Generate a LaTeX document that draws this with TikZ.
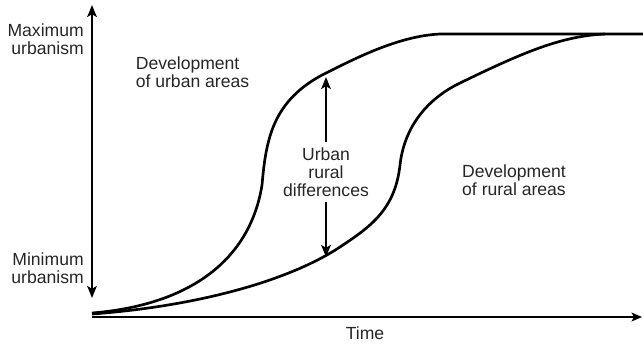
\documentclass[tikz,border=0pt]{standalone}
\usepackage{fontspec}
\setmainfont{Liberation Sans}
\usetikzlibrary{arrows.meta}
\tikzset{
  axis/.style={line width=1.2pt},
  growth/.style={line width=1.9pt, line join=round},
  tip/.style={-{Stealth[length=3mm,width=2.4mm,inset=0.7mm]}},
  lbl/.style={inner sep=0pt, text=black!85},
}
\begin{document}
\begin{tikzpicture}[x=0.025cm, y=-0.025cm, font=\fontsize{12.5}{12.6}\selectfont]
  \useasboundingbox (0,0) rectangle (643,344);
  \coordinate (ytop) at (92,5);
  \coordinate (ybot) at (92,298);
  \coordinate (orig) at (92,317);
  \coordinate (tend) at (642,317);
  \coordinate (utop) at (326,77);
  \coordinate (rbot) at (326,257);

  % axes
  \draw[axis, {Stealth[length=3mm,width=2.4mm,inset=0.7mm]}-{Stealth[length=3mm,width=2.4mm,inset=0.7mm]}] (ytop) -- (ybot);
  \draw[axis, -{Stealth[length=2.6mm,width=2.2mm,inset=0.6mm]}] (orig) -- (tend);

  % urban curve
  \draw[growth] (92,313) .. controls (190,305) and (250,260) .. (262,185)
    .. controls (266,140) and (272,100) .. (326,73)
    .. controls (360,56) and (400,36) .. (440,34) -- (643,34);
  % rural curve
  \draw[growth] (92,314) .. controls (200,306) and (290,280) .. (340,247)
    .. controls (370,227) and (395,210) .. (400,165)
    .. controls (404,129) and (425,100) .. (460,83)
    .. controls (520,54) and (560,36) .. (605,34);

  \node[lbl, anchor=east, align=right] (maxu) at (84,39) {Maximum\\urbanism};
  \node[lbl, anchor=east, align=right] (minu) at (84,268) {Minimum\\urbanism};
  \node[lbl, align=left] (urbdev) at (192.5,72.5) {Development\\of urban areas};
  \node[lbl, align=left] (rurdev) at (514,180) {Development\\of rural areas};
  \node[lbl, align=center, inner sep=4pt] (diff) at (326,172) {Urban\\rural\\differences};
  \node[lbl] (time) at (365,333.5) {Time};

  \draw[axis, line width=1.4pt, tip] (diff) -- (utop);
  \draw[axis, line width=1.4pt, tip] (diff) -- (rbot);
\end{tikzpicture}
\end{document}
